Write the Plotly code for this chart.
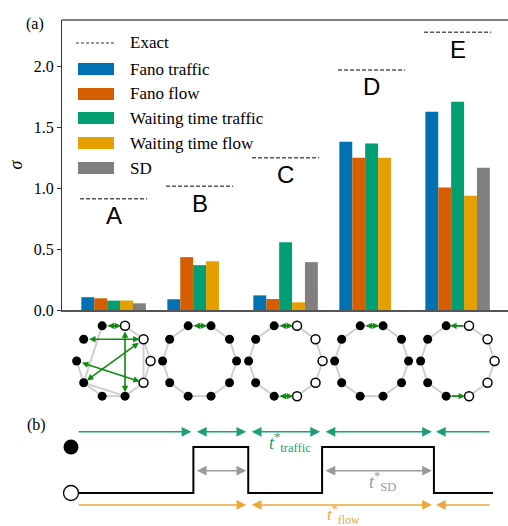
import numpy as np
import plotly.graph_objects as go

# ---------------- data ----------------
categories = ['A', 'B', 'C', 'D', 'E']
fano_traffic = [0.105, 0.088, 0.120, 1.380, 1.628]
fano_flow = [0.096, 0.434, 0.090, 1.250, 1.005]
wait_traffic = [0.077, 0.368, 0.557, 1.367, 1.710]
wait_flow = [0.078, 0.400, 0.063, 1.250, 0.937]
sd_values = [0.055, None, 0.393, None, 1.167]
exact_values = [0.914, 1.016, 1.250, 1.970, 2.280]
y_tick_vals = [0.0, 0.5, 1.0, 1.5, 2.0]
y_tick_text = ['0.0', '0.5', '1.0', '1.5', '2.0']
series_names = ['Fano traffic', 'Fano flow', 'Waiting time traffic', 'Waiting time flow', 'SD']

# ring graphs drawn below each group (10 nodes each)
n_nodes = 10
open_nodes = [[0, 1, 2, 9], [], [0, 1, 2, 8, 9], [], [0, 1, 2, 8, 9]]
ring_edges = [(k, (k + 1) % 10) for k in range(10)]
graph_edges = [
    [(0, 1), (1, 2), (2, 3), (0, 9), (1, 9), (3, 6), (5, 6), (6, 7), (7, 8), (6, 8), (8, 9)],
    ring_edges, ring_edges, ring_edges, ring_edges,
]
graph_arrows = [
    [(3, 2, 'both'), (4, 1, 'both'), (2, 8, 'both'), (1, 6, 'both'), (5, 9, 'both')],
    [(3, 2, 'both')],
    [(3, 2, 'both'), (7, 8, 'both')],
    [(3, 2, 'both')],
    [(2, 3, 'end'), (7, 8, 'end')],
]

# panel (b) two-state signal
signal_times = [0.0, 2.9, 4.2, 5.95, 8.6, 10.0]
signal_levels = [0, 1, 0, 1, 0, 0]

# ---------------- styles ----------------
colors = ['#0072B2', '#D55E00', '#009E73', '#E69F00', '#808080']
SERIF = 'Liberation Serif, serif'
SANS = 'Liberation Sans, Arial, sans-serif'
W, H = 508, 526


def fx(px):
    return px / W


def fy(py):
    return 1 - py / H


fig = go.Figure()

# bars
for name, vals, c in zip(series_names,
                         [fano_traffic, fano_flow, wait_traffic, wait_flow, sd_values], colors):
    fig.add_trace(go.Bar(x=list(range(len(categories))), y=vals, name=name,
                         marker=dict(color=c, line=dict(width=0)), showlegend=False,
                         xaxis='x', yaxis='y'))

# exact dashed lines
ex_x, ex_y = [], []
for i, v in enumerate(exact_values):
    ex_x += [i - 0.39, i + 0.39, None]
    ex_y += [v, v, None]
fig.add_trace(go.Scatter(x=ex_x, y=ex_y, mode='lines', name='Exact', showlegend=False,
                         line=dict(color='#555555', width=1.5, dash='4px,2px'),
                         xaxis='x', yaxis='y'))

annotations = []
shapes = []

for i, (cat, v) in enumerate(zip(categories, exact_values)):
    annotations.append(dict(x=i, y=v, xref='x', yref='y', text=cat, showarrow=False,
                            yanchor='middle', yshift=-17,
                            font=dict(family=SANS, size=24, color='black')))

# ring graphs
R = 0.43
ang = np.deg2rad(np.arange(n_nodes) * 36.0)
edge_x, edge_y = [], []
fill_x, fill_y, open_x, open_y = [], [], [], []
for g in range(len(categories)):
    nx_ = g + R * np.cos(ang)
    ny_ = R * np.sin(ang)
    for a, b in graph_edges[g]:
        edge_x += [nx_[a], nx_[b], None]
        edge_y += [ny_[a], ny_[b], None]
    for k in range(n_nodes):
        if k in open_nodes[g]:
            open_x.append(nx_[k]); open_y.append(ny_[k])
        else:
            fill_x.append(nx_[k]); fill_y.append(ny_[k])
    for a, b, kind in graph_arrows[g]:
        annotations.append(dict(x=nx_[b], y=ny_[b], ax=nx_[a], ay=ny_[a],
                                xref='x4', yref='y4', axref='x4', ayref='y4',
                                text='', showarrow=True, arrowhead=2, arrowsize=0.8,
                                arrowwidth=1.6, arrowcolor='#108a10',
                                arrowside='end+start' if kind == 'both' else 'end',
                                startarrowhead=2, startarrowsize=0.8,
                                standoff=4, startstandoff=4))

fig.add_trace(go.Scatter(x=edge_x, y=edge_y, mode='lines', showlegend=False,
                         line=dict(color='#cfcfcf', width=2), xaxis='x4', yaxis='y4',
                         hoverinfo='skip', cliponaxis=False))
fig.add_trace(go.Scatter(x=fill_x, y=fill_y, mode='markers', showlegend=False,
                         marker=dict(size=9, color='black'), xaxis='x4', yaxis='y4',
                         cliponaxis=False))
fig.add_trace(go.Scatter(x=open_x, y=open_y, mode='markers', showlegend=False,
                         marker=dict(size=9, color='white', line=dict(color='black', width=1.5)),
                         xaxis='x4', yaxis='y4', cliponaxis=False))

# panel (b) signal
fig.add_trace(go.Scatter(x=signal_times, y=signal_levels, mode='lines', line_shape='hv',
                         line=dict(color='black', width=2), showlegend=False,
                         xaxis='x3', yaxis='y3', cliponaxis=False))
fig.add_trace(go.Scatter(x=[signal_times[0]], y=[1], mode='markers', showlegend=False,
                         marker=dict(size=15, color='black'), xaxis='x3', yaxis='y3',
                         cliponaxis=False))
fig.add_trace(go.Scatter(x=[signal_times[0]], y=[0], mode='markers', showlegend=False,
                         marker=dict(size=15, color='white', line=dict(color='black', width=1.3)),
                         xaxis='x3', yaxis='y3', cliponaxis=False))

up_times = [signal_times[i] for i in range(1, len(signal_times) - 1)
            if signal_levels[i] > signal_levels[i - 1]]
down_times = [signal_times[i] for i in range(1, len(signal_times) - 1)
              if signal_levels[i] < signal_levels[i - 1]]
t_start, t_end = 0.1, signal_times[-1]

TEAL, GRAY, ORANGE = '#1a9f78', '#9a9a9a', '#eca73c'


def arrow(t0, t1, y, color, kind):
    if kind == 'start':
        t0, t1 = t1, t0
        kind = 'end'
    return dict(x=t1, y=y, ax=t0, ay=y, xref='x3', yref='y3', axref='x3', ayref='y3',
                text='', showarrow=True, arrowhead=2, arrowsize=1.3, arrowwidth=1.5,
                arrowcolor=color, arrowside='end+start' if kind == 'both' else 'end',
                startarrowhead=2, startarrowsize=1.3, standoff=2, startstandoff=2)


def chain(bounds, y, color):
    out = []
    for j in range(len(bounds) - 1):
        if j == 0:
            kind = 'end'
        elif j == len(bounds) - 2:
            kind = 'start'
        else:
            kind = 'both'
        out.append(arrow(bounds[j], bounds[j + 1], y, color, kind))
    return out


traffic_bounds = [t_start] + sorted(up_times + down_times) + [t_end]
flow_bounds = [t_start] + down_times + [t_end]
annotations += chain(traffic_bounds, 1.33, TEAL)
annotations += chain(flow_bounds, -0.26, ORANGE)
for u, d in zip(up_times, down_times):
    annotations.append(arrow(u, d, 0.485, GRAY, 'both'))

annotations.append(dict(x=5.19, y=1.10, xref='x3', yref='y3', showarrow=False,
                        text='<i>t</i><sup>*</sup><sub>traffic</sub>',
                        font=dict(family=SERIF, size=18, color=TEAL)))
annotations.append(dict(x=7.39, y=0.24, xref='x3', yref='y3', showarrow=False,
                        text='<i>t</i><sup>*</sup><sub>SD</sub>',
                        font=dict(family=SERIF, size=18, color=GRAY)))
annotations.append(dict(x=6.45, y=-0.46, xref='x3', yref='y3', showarrow=False,
                        text='<i>t</i><sup>*</sup><sub>flow</sub>',
                        font=dict(family=SERIF, size=17, color=ORANGE)))

# panel labels
annotations.append(dict(x=fx(24), y=fy(13), xref='paper', yref='paper', text='(a)',
                        showarrow=False, font=dict(family=SERIF, size=16, color='black')))
annotations.append(dict(x=fx(25), y=fy(436), xref='paper', yref='paper', text='(b)',
                        showarrow=False, font=dict(family=SERIF, size=16, color='black')))

# manual legend
legend_rows = [43, 69, 94, 118, 143, 168]
shapes.append(dict(type='line', xref='paper', yref='paper', x0=fx(76), x1=fx(115),
                   y0=fy(legend_rows[0]), y1=fy(legend_rows[0]),
                   line=dict(color='#333333', width=1.2, dash='3px,2px')))
annotations.append(dict(x=fx(128), y=fy(legend_rows[0]), xref='paper', yref='paper',
                        text='Exact', showarrow=False, xanchor='left', yanchor='middle',
                        font=dict(family=SERIF, size=17, color='black')))
for name, c, ry in zip(series_names, colors, legend_rows[1:]):
    shapes.append(dict(type='rect', xref='paper', yref='paper', x0=fx(78), x1=fx(114),
                       y0=fy(ry + 6), y1=fy(ry - 6), fillcolor=c, line=dict(width=0)))
    annotations.append(dict(x=fx(128), y=fy(ry), xref='paper', yref='paper',
                            text=name, showarrow=False, xanchor='left', yanchor='middle',
                            font=dict(family=SERIF, size=17, color='black')))

# top spine
shapes.append(dict(type='line', xref='paper', yref='paper', x0=fx(62), x1=1,
                   y0=fy(20), y1=fy(20), line=dict(color='#555555', width=1.5)))

x_range = [-0.6, 4.586]
fig.update_layout(
    template='none',
    width=W, height=H, autosize=False,
    margin=dict(l=0, r=0, t=0, b=0, pad=0),
    paper_bgcolor='white', plot_bgcolor='rgba(0,0,0,0)',
    barmode='group', bargap=0.25, bargroupgap=0,
    showlegend=False,
    font=dict(family=SERIF, size=16, color='black'),
    xaxis=dict(domain=[fx(62), 1], range=x_range, showticklabels=False, ticks='',
               showgrid=False, zeroline=False, showline=True, linecolor='#555555',
               linewidth=1.5, anchor='y', automargin=False),
    yaxis=dict(domain=[fy(310), fy(20)], range=[0, 2.38], tickvals=y_tick_vals,
               ticktext=y_tick_text, ticks='outside', ticklen=4, tickcolor='#333333',
               showgrid=False, zeroline=False, showline=True, linecolor='#333333',
               linewidth=1.3, anchor='x', automargin=False,
               tickfont=dict(family=SERIF, size=16, color='black'),
               title=dict(text='<i>σ</i>', standoff=6,
                          font=dict(family=SERIF, size=18, color='black'))),
    xaxis4=dict(domain=[fx(62), 1], range=x_range, visible=False, anchor='y4',
                automargin=False),
    yaxis4=dict(domain=[fy(406), fy(316)], range=[-0.5233, 0.5233], visible=False,
                anchor='x4', automargin=False),
    xaxis3=dict(domain=[fx(71), fx(493)], range=[0, 10], visible=False, anchor='y3',
                automargin=False),
    yaxis3=dict(domain=[fy(525.2), fy(414.8)], range=[-0.7, 1.7], visible=False,
                anchor='x3', automargin=False),
    annotations=annotations,
    shapes=shapes,
)

fig.write_html('out.html', config={'displayModeBar': False},
               post_script="document.body.style.margin='0';document.body.style.padding='0';"
                           "document.body.style.overflow='hidden';")
